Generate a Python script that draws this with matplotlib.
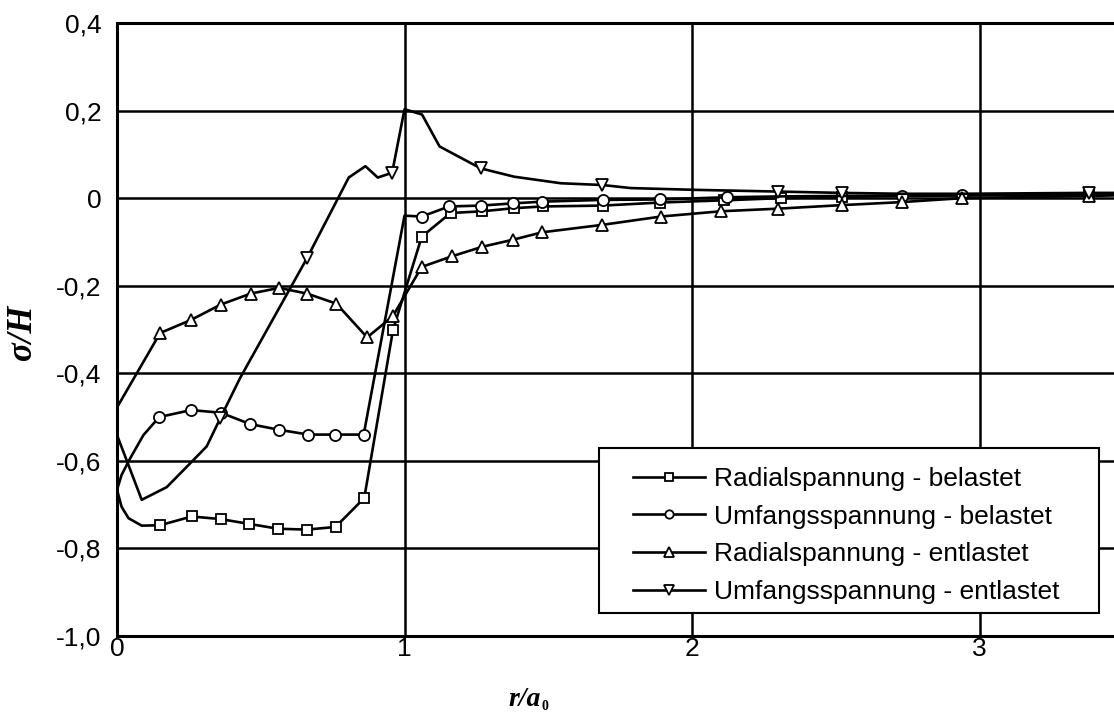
import matplotlib
matplotlib.use("Agg")
import matplotlib.pyplot as plt
from matplotlib.patches import Rectangle

# ---- data ----
xa = [0, 0.016, 0.04, 0.086, 0.15, 0.26, 0.36, 0.46, 0.56, 0.66, 0.76, 0.86, 0.96, 1.06, 1.16, 1.27,
      1.38, 1.48, 1.69, 1.89, 2.11, 2.31, 2.52, 2.73, 2.94, 3.38, 3.6]
ya = [-0.666, -0.705, -0.731, -0.748, -0.747, -0.727, -0.733, -0.744, -0.755, -0.757, -0.751, -0.685,
      -0.301, -0.088, -0.034, -0.030, -0.023, -0.019, -0.017, -0.010, -0.005, 0.0, 0.003, 0.005, 0.006,
      0.009, 0.010]

xb = [0, 0.016, 0.046, 0.092, 0.147, 0.257, 0.361, 0.463, 0.563, 0.666, 0.757, 0.858, 1.0, 1.06, 1.155,
      1.265, 1.377, 1.479, 1.69, 1.89, 2.12, 2.31, 2.52, 2.73, 2.94, 3.38, 3.6]
yb = [-0.666, -0.632, -0.594, -0.541, -0.500, -0.484, -0.490, -0.516, -0.529, -0.540, -0.540, -0.540,
      -0.040, -0.042, -0.019, -0.017, -0.012, -0.008, -0.004, -0.003, 0.002, 0.004, 0.005, 0.006, 0.007,
      0.009, 0.010]

xc = [0, 0.15, 0.258, 0.361, 0.465, 0.564, 0.661, 0.763, 0.87, 0.959, 1.06, 1.164, 1.271, 1.377, 1.479,
      1.688, 1.892, 2.10, 2.30, 2.52, 2.73, 2.94, 3.38, 3.6]
yc = [-0.478, -0.308, -0.278, -0.243, -0.218, -0.205, -0.218, -0.241, -0.318, -0.270, -0.157, -0.133,
      -0.111, -0.095, -0.078, -0.061, -0.042, -0.030, -0.024, -0.016, -0.009, 0.0, 0.005, 0.008]

xd = [0, 0.086, 0.173, 0.266, 0.312, 0.359, 0.428, 0.661, 0.806, 0.864, 0.907, 0.957, 1.0, 1.061, 1.122,
      1.265, 1.381, 1.544, 1.688, 1.787, 2.007, 2.30, 2.52, 2.73, 2.94, 3.38, 3.6]
yd = [-0.541, -0.689, -0.660, -0.598, -0.567, -0.503, -0.411, -0.137, 0.047, 0.073, 0.047, 0.058, 0.203,
      0.191, 0.118, 0.068, 0.049, 0.034, 0.030, 0.023, 0.019, 0.015, 0.012, 0.010, 0.010, 0.012, 0.012]

labels = ["Radialspannung - belastet", "Umfangsspannung - belastet",
          "Radialspannung - entlastet", "Umfangsspannung - entlastet"]

yticks = [0.4, 0.2, 0, -0.2, -0.4, -0.6, -0.8, -1.0]
ytick_labels = ["0,4", "0,2", "0", "-0,2", "-0,4", "-0,6", "-0,8", "-1,0"]
xticks = [0, 1, 2, 3]
xtick_labels = ["0", "1", "2", "3"]

# marker positions (indices into the series)
mark_a = [4, 5, 6, 7, 8, 9, 10, 11, 12, 13, 14, 15, 16, 17, 18, 19, 20, 21, 22, 25]
mark_b = [4, 5, 6, 7, 8, 9, 10, 11, 13, 14, 15, 16, 17, 18, 19, 20, 23, 24]
mark_c = list(range(1, 23))
mark_d = [5, 7, 11, 15, 18, 21, 22, 25]

# ---- figure ----
W, H = 1114, 724
fig = plt.figure(figsize=(W / 100, H / 100), dpi=100)
ax_left, ax_bottom, ax_top = 117, 636, 23
unit = 287.5
xmax = 3.5
ax = fig.add_axes([ax_left / W, (H - ax_bottom) / H, xmax * unit / W, (ax_bottom - ax_top) / H])

sans = "Liberation Sans"
serif = "Liberation Serif"

lw = 1.9
common = dict(color="black", lw=lw, markerfacecolor="white", markeredgecolor="black",
              markeredgewidth=1.3, zorder=3, clip_on=True)
ax.plot(xa, ya, marker="s", markersize=7, markevery=mark_a, label=labels[0], **common)
ax.plot(xb, yb, marker="o", markersize=8, markevery=mark_b, label=labels[1], **common)
ax.plot(xc, yc, marker="^", markersize=9, markevery=mark_c, label=labels[2], **common)
ax.plot(xd, yd, marker="v", markersize=9, markevery=mark_d, label=labels[3], **common)

ax.set_xlim(0, xmax)
ax.set_ylim(-1.0, 0.4)
ax.set_yticks(yticks)
ax.set_yticklabels(ytick_labels, fontfamily=sans, fontsize=19)
ax.set_xticks(xticks)
ax.set_xticklabels(xtick_labels, fontfamily=sans, fontsize=19)
ax.tick_params(axis="x", length=0, pad=1)
ax.tick_params(axis="y", length=0, pad=11)
ax.grid(True, color="black", lw=1.8, zorder=1)
ax.set_axisbelow(True)
for side, sp in ax.spines.items():
    sp.set_linewidth(2.2)
    sp.set_color("black")

# axis labels
fig.text(23 / W, 1 - 332 / H, "σ/H", rotation=90, ha="center", va="center",
         fontfamily=serif, fontstyle="italic", fontweight="bold", fontsize=25)
fig.text(541 / W, 1 - 700 / H, "r/a", ha="right", va="center",
         fontfamily=serif, fontstyle="italic", fontweight="bold", fontsize=20)
fig.text(542 / W, 1 - 706 / H, "0", ha="left", va="center",
         fontfamily=serif, fontweight="bold", fontsize=10)

# legend box (drawn as a rectangle) and legend entries
box_l, box_r, box_t, box_b = 599, 1099, 448, 613
fig.patches.append(Rectangle((box_l / W, (H - box_b) / H), (box_r - box_l) / W, (box_b - box_t) / H,
                             transform=fig.transFigure, facecolor="white", edgecolor="black",
                             lw=1.5, zorder=4))
leg = fig.legend(loc="upper left", bbox_to_anchor=(633 / W, (H - 467) / H),
                 bbox_transform=fig.transFigure, prop={"family": sans, "size": 19},
                 frameon=False, handlelength=2.73, handletextpad=0.34, labelspacing=0.52,
                 borderpad=0, markerscale=0.75, borderaxespad=0)
leg.set_zorder(5)

fig.savefig("out.png", dpi=100, facecolor="white")
